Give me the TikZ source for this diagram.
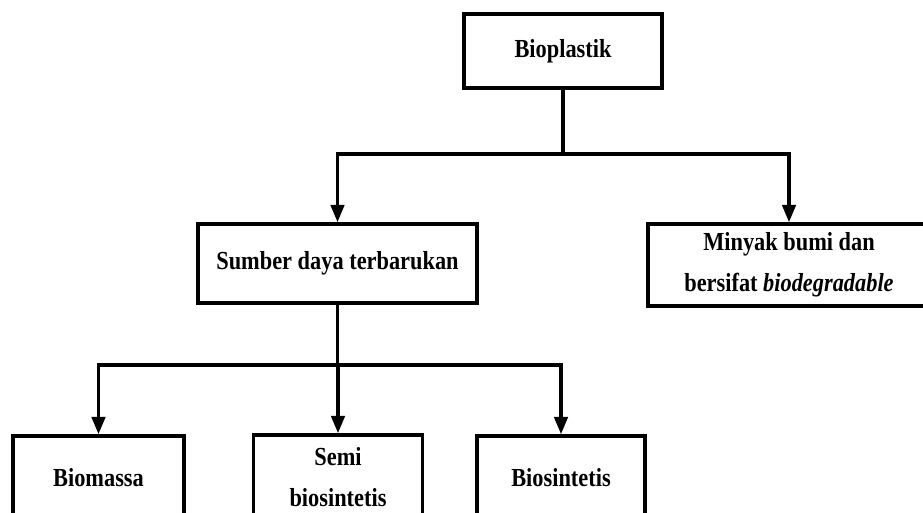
\documentclass[tikz,border=0pt]{standalone}
\usepackage{fontspec}
\newfontfamily\dfont{Liberation Serif}[UprightFont={* Bold}, ItalicFont={* Bold Italic}, FakeStretch=0.86]
\usetikzlibrary{arrows.meta}
\tikzset{
  box/.style={draw, line width=2.6pt, align=center, inner sep=0pt,
    font=\dfont\fontsize{19.5}{31}\selectfont},
  conn/.style={line width=2.6pt},
  arr/.style={line width=2.6pt, -{Triangle[length=13pt,width=10pt]}}
}
\begin{document}
\begin{tikzpicture}[x=0.75pt,y=-0.75pt]
\useasboundingbox (0,0) rectangle (923,513);
\fill[white] (0,0) rectangle (923,513);
\clip (0,0) rectangle (923,513);
\node[box, minimum width=148.5pt, minimum height=55.5pt] (bio) at (563,51) {Bioplastik};
\node[box, minimum width=209.25pt, minimum height=59.25pt] (sum) at (337.5,263.5) {Sumber daya terbarukan};
\node[box, minimum width=211.5pt, minimum height=61.5pt] (min) at (789,265) {Minyak bumi dan\\bersifat \textit{biodegradable}};
\node[box, minimum width=128.25pt, minimum height=63pt] (bm) at (98.5,478) {Biomassa};
\node[box, minimum width=126.75pt, minimum height=63pt] (semi) at (338,477) {Semi\\biosintetis};
\node[box, minimum width=126pt, minimum height=63pt] (bs) at (561,478) {Biosintetis};
\coordinate (j1) at (563,154);
\coordinate (j2) at (337.5,365);
\draw[conn] (bio.south) -- (j1);
\draw[arr] (j1) -| (sum.north);
\draw[arr] (j1) -| (min.north);
\draw[conn] (sum.south) -- (j2);
\draw[arr] (j2) -| (bm.north);
\draw[arr] (j2) -| (semi.north);
\draw[arr] (j2) -| (bs.north);
\end{tikzpicture}
\end{document}
